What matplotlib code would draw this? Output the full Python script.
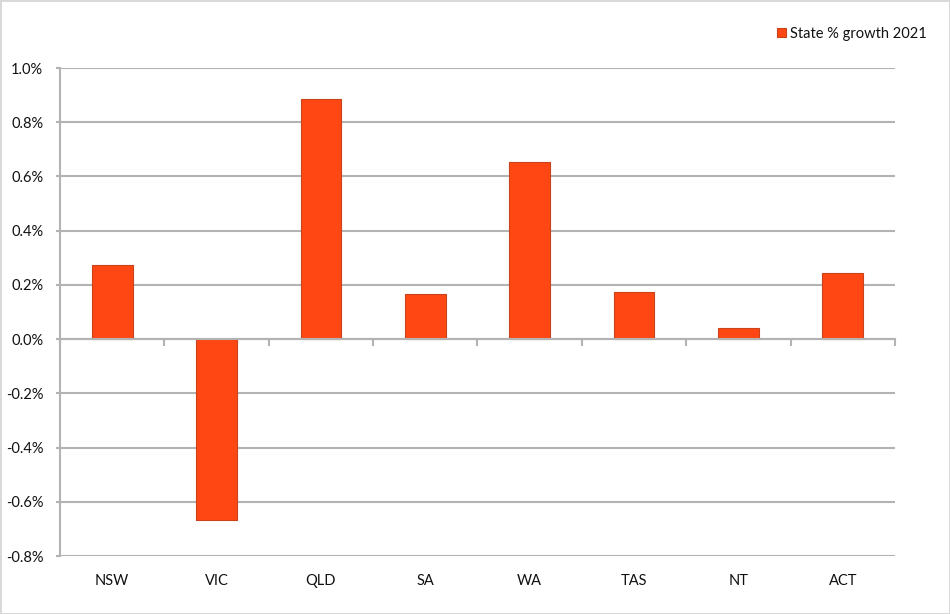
import matplotlib
matplotlib.use("Agg")
import matplotlib.pyplot as plt
from matplotlib.ticker import FuncFormatter, MultipleLocator

# State population growth 2021 (%)
states = ["NSW", "VIC", "QLD", "SA", "WA", "TAS", "NT", "ACT"]
growth = [0.272, -0.666, 0.886, 0.167, 0.653, 0.173, 0.041, 0.243]
series_name = "State % growth 2021"

bar_color = "#FF4713"
edge_color = "#C9431A"
grid_color = "#B3B3B3"
text_color = "#111111"

plt.rcParams["font.family"] = ["Lato", "DejaVu Sans"]

fig = plt.figure(figsize=(9.5, 6.14), dpi=100)
fig.patch.set_edgecolor("#D9D9D9")
fig.patch.set_linewidth(2)

ax = fig.add_axes([60 / 950, 58 / 614, 835 / 950, 488 / 614])
x = range(len(states))
ax.bar(x, growth, width=0.39, color=bar_color, edgecolor=edge_color,
       linewidth=0.8, label=series_name, zorder=3)

ax.set_xlim(-0.5, len(states) - 0.5)
ax.set_ylim(-0.8, 1.0)
ax.yaxis.set_major_locator(MultipleLocator(0.2))
ax.yaxis.set_major_formatter(FuncFormatter(lambda v, p: f"{v:.1f}%"))
ax.grid(axis="y", color=grid_color, linewidth=1.5, zorder=0)

for side in ["top", "right", "bottom"]:
    ax.spines[side].set_visible(False)
ax.spines["left"].set_color(grid_color)
ax.spines["left"].set_linewidth(1.5)

ax.tick_params(axis="y", length=3, width=1.5, color=grid_color,
               labelsize=10.5, labelcolor=text_color, pad=9)
ax.set_xticks(list(x))
ax.set_xticklabels(states)
ax.tick_params(axis="x", length=0, labelsize=10.5, labelcolor=text_color, pad=13)

# category axis drawn along the zero line, with ticks between categories
ax2 = ax.twiny()
ax2.patch.set_visible(False)
ax2.set_xlim(ax.get_xlim())
for side in ["top", "right", "left"]:
    ax2.spines[side].set_visible(False)
ax2.spines["bottom"].set_position(("data", 0))
ax2.spines["bottom"].set_color(grid_color)
ax2.spines["bottom"].set_linewidth(1.5)
ax2.xaxis.set_ticks_position("bottom")
ax2.set_xticks([i - 0.5 for i in range(len(states) + 1)])
ax2.set_xticklabels([])
ax2.tick_params(axis="x", direction="out", length=5, width=1.5, color=grid_color)

handles, labels = ax.get_legend_handles_labels()
fig.legend(handles, labels, loc="center right", bbox_to_anchor=(940 / 950, 1 - 34 / 614),
           frameon=False, fontsize=10.5, handlelength=0.6, handleheight=0.6,
           handletextpad=0.3, labelcolor=text_color)

fig.savefig("out.png", dpi=100)
